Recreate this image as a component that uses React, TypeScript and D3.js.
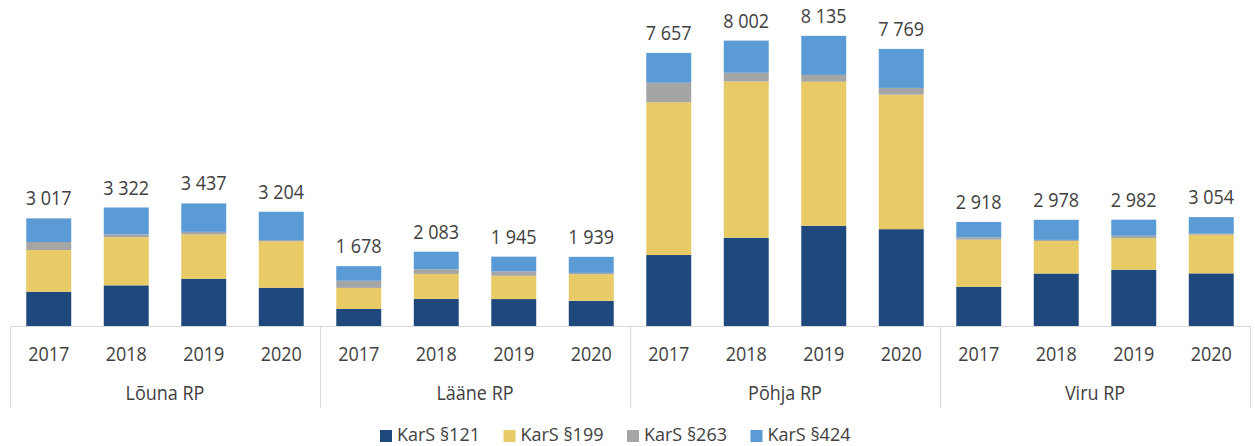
import React, { useEffect, useRef } from "react";
import * as d3 from "d3";

// regions and years (two-level x axis)
const regions = ["Lõuna RP", "Lääne RP", "Põhja RP", "Viru RP"];
const years = ["2017", "2018", "2019", "2020"];

// series, 16 values each: region by region, 2017..2020
const seriesNames = ["KarS §121", "KarS §199", "KarS §263", "KarS §424"];
const kars121 = [960, 1140, 1325, 1070, 478, 760, 755, 705, 1990, 2475, 2810, 2715, 1100, 1472, 1578, 1475];
const kars199 = [1170, 1350, 1240, 1300, 590, 700, 652, 745, 4285, 4380, 4040, 3770, 1320, 912, 884, 1083];
const kars263 = [225, 80, 75, 40, 200, 133, 122, 40, 545, 245, 190, 190, 70, 30, 68, 30];
const kars424 = [662, 752, 797, 794, 410, 490, 416, 449, 837, 902, 1095, 1094, 428, 564, 452, 466];
const totals = [3017, 3322, 3437, 3204, 1678, 2083, 1945, 1939, 7657, 8002, 8135, 7769, 2918, 2978, 2982, 3054];

const colors = ["#1f497d", "#e8cb66", "#a5a5a5", "#5b9bd5"];

const App = () => {
  const ref = useRef<SVGSVGElement>(null);

  useEffect(() => {
    const width = 1255;
    const height = 446;
    const left = 10;
    const right = 1250;
    const base = 326;
    const font = "'Open Sans', 'Noto Sans', sans-serif";
    const textColor = "#404040";
    const stretch = 1.13; // the reference text is a bit taller than wide

    const svg = d3.select(ref.current);
    svg.selectAll("*").remove();
    svg.attr("width", width).attr("height", height);

    const keys = regions.flatMap((r) => years.map((y) => `${r}|${y}`));
    const rows = keys.map((k, i) => ({
      key: k,
      s0: kars121[i],
      s1: kars199[i],
      s2: kars263[i],
      s3: kars424[i],
      total: totals[i],
    }));

    const x = d3.scaleBand().domain(keys).range([left, right]).paddingInner(0.42).paddingOuter(0.21);
    const y = d3.scaleLinear().domain([0, 9000]).range([base, 5]);

    const stack = d3.stack<any>().keys(["s0", "s1", "s2", "s3"]);
    const layers = stack(rows);

    svg
      .append("g")
      .selectAll("g")
      .data(layers)
      .join("g")
      .attr("fill", (d, i) => colors[i])
      .selectAll("rect")
      .data((d) => d)
      .join("rect")
      .attr("x", (d: any) => x(d.data.key)!)
      .attr("width", x.bandwidth())
      .attr("y", (d) => y(d[1]))
      .attr("height", (d) => y(d[0]) - y(d[1]));

    // total labels
    svg
      .append("g")
      .selectAll("text")
      .data(rows)
      .join("text")
      .attr("transform", (d) => `translate(${x(d.key)! + x.bandwidth() / 2},${y(d.s0 + d.s1 + d.s2 + d.s3) - 13}) scale(1,${stretch})`)
      .attr("text-anchor", "middle")
      .attr("font-family", font)
      .attr("font-size", 18)
      .attr("fill", textColor)
      .text((d) => d3.format(",")(d.total).replace(/,/g, " "));

    // axis
    const axis = svg.append("g").attr("stroke", "#d9d9d9").attr("stroke-width", 1);
    axis.append("line").attr("x1", left).attr("x2", right).attr("y1", base + 0.5).attr("y2", base + 0.5);
    const groupW = (right - left) / regions.length;
    d3.range(regions.length + 1).forEach((i) => {
      const gx = Math.round(left + i * groupW) + 0.5;
      axis.append("line").attr("x1", gx).attr("x2", gx).attr("y1", base).attr("y2", 408);
    });

    svg
      .append("g")
      .selectAll("text")
      .data(keys)
      .join("text")
      .attr("transform", (k) => `translate(${x(k)! + x.bandwidth() / 2},361) scale(1,${stretch})`)
      .attr("text-anchor", "middle")
      .attr("font-family", font)
      .attr("font-size", 18)
      .attr("fill", textColor)
      .text((k) => k.split("|")[1]);

    svg
      .append("g")
      .selectAll("text")
      .data(regions)
      .join("text")
      .attr("transform", (r, i) => `translate(${left + (i + 0.5) * groupW},400) scale(1,${stretch})`)
      .attr("text-anchor", "middle")
      .attr("font-family", font)
      .attr("font-size", 18)
      .attr("fill", textColor)
      .text((r) => r);

    // legend
    const legend = svg.append("g").attr("transform", "translate(380, 434)");
    const item = legend
      .selectAll("g")
      .data(seriesNames)
      .join("g")
      .attr("transform", (d, i) => `translate(${i * 123.5}, 0)`);
    item
      .append("rect")
      .attr("x", 0)
      .attr("y", -4)
      .attr("width", 12)
      .attr("height", 12)
      .attr("fill", (d, i) => colors[i]);
    item
      .append("text")
      .attr("transform", `translate(17,7) scale(1,1.05)`)
      .attr("font-family", font)
      .attr("font-size", 18)
      .attr("fill", textColor)
      .text((d) => d);
  }, []);

  return <svg ref={ref} style={{ position: "absolute", left: 0, top: 0, display: "block" }} />;
};

export default App;
